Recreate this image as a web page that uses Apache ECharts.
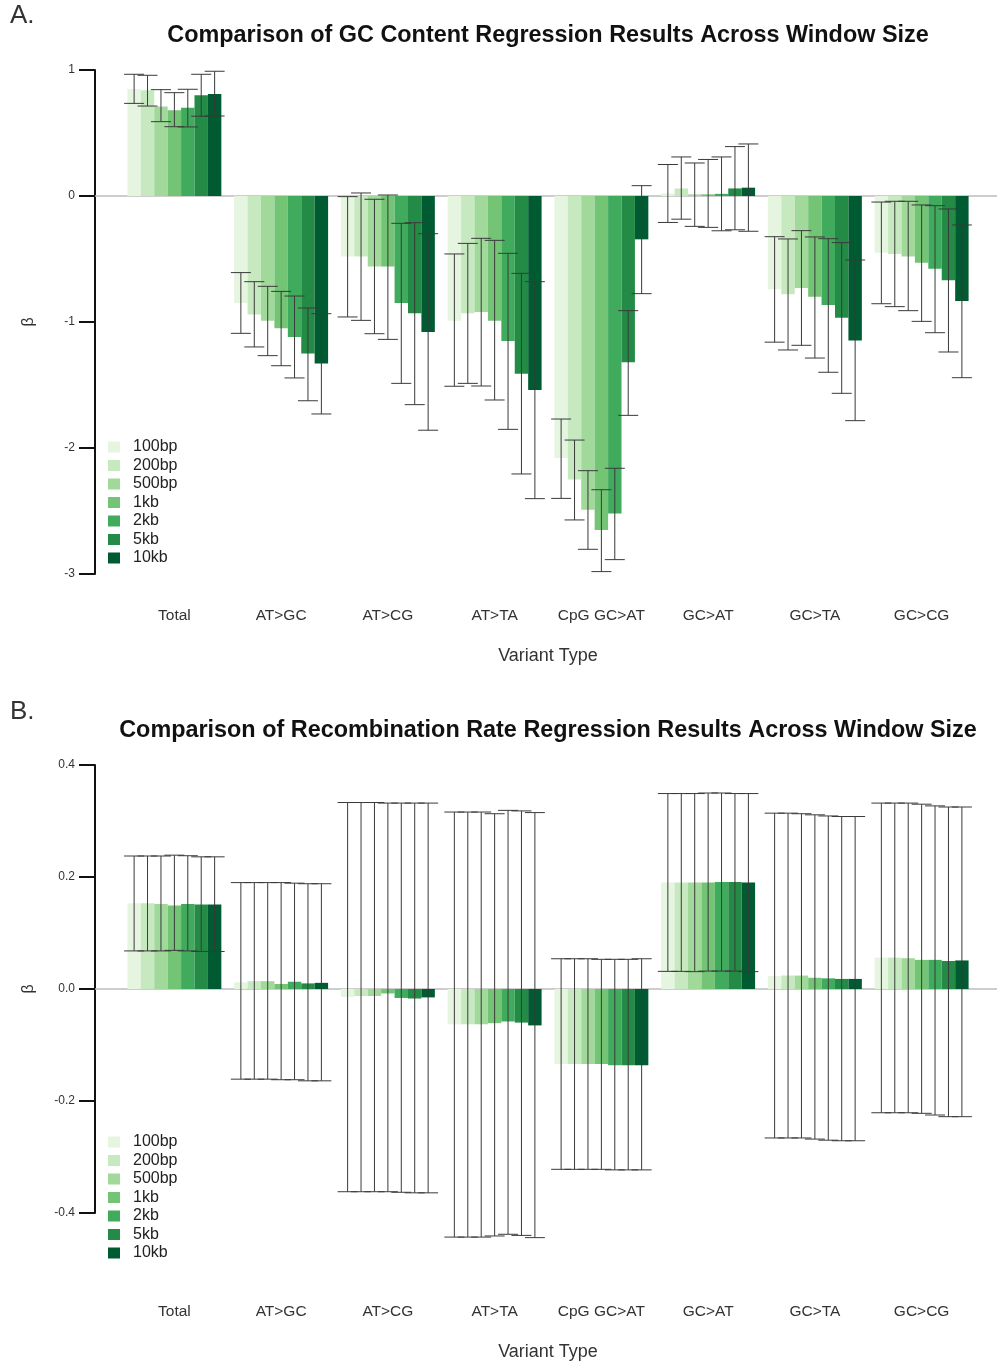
<!DOCTYPE html>
<html>
<head>
<meta charset="utf-8">
<script src="https://cdn.jsdelivr.net/npm/echarts@6/dist/echarts.min.js"></script>
<style>
html,body{margin:0;padding:0;background:#fff;}
#chart{width:997px;height:1362px;}
</style>
</head>
<body>
<div id="chart"></div>
<script>
const categories = ['Total', 'AT>GC', 'AT>CG', 'AT>TA', 'CpG GC>AT', 'GC>AT', 'GC>TA', 'GC>CG'];
const windowSizes = ['100bp', '200bp', '500bp', '1kb', '2kb', '5kb', '10kb'];
const gcTicks = [-3, -2, -1, 0, 1];
const recTicks = [-0.4, -0.2, 0.0, 0.2, 0.4];

// Panel A: GC content regression (rows = window size, columns = categories)
const gcBeta = [
  [0.85, -0.85, -0.48, -0.99, -2.08, 0.02, -0.74, -0.45],
  [0.84, -0.94, -0.48, -0.93, -2.25, 0.06, -0.78, -0.46],
  [0.71, -0.99, -0.56, -0.92, -2.49, 0.013, -0.73, -0.48],
  [0.68, -1.05, -0.56, -0.99, -2.65, 0.013, -0.80, -0.53],
  [0.70, -1.12, -0.85, -1.15, -2.52, 0.017, -0.865, -0.577],
  [0.80, -1.25, -0.93, -1.41, -1.32, 0.06, -0.966, -0.669],
  [0.81, -1.33, -1.08, -1.54, -0.344, 0.066, -1.146, -0.833]
];
const gcLower = [
  [0.735, -1.09, -0.96, -1.51, -2.40, -0.21, -1.16, -0.855],
  [0.714, -1.198, -0.987, -1.487, -2.571, -0.184, -1.222, -0.878],
  [0.59, -1.267, -1.093, -1.508, -2.804, -0.241, -1.185, -0.91],
  [0.55, -1.347, -1.138, -1.619, -2.981, -0.249, -1.286, -0.995],
  [0.548, -1.444, -1.487, -1.852, -2.886, -0.276, -1.399, -1.085],
  [0.633, -1.625, -1.656, -2.206, -1.741, -0.268, -1.566, -1.238],
  [0.635, -1.73, -1.859, -2.402, -0.775, -0.28, -1.783, -1.442]
];
const gcUpper = [
  [0.966, -0.608, -0.005, -0.46, -1.77, 0.25, -0.323, -0.048],
  [0.958, -0.68, 0.024, -0.376, -1.937, 0.31, -0.341, -0.042],
  [0.844, -0.717, -0.026, -0.336, -2.18, 0.262, -0.275, -0.042],
  [0.82, -0.757, 0.008, -0.352, -2.331, 0.29, -0.325, -0.071],
  [0.847, -0.794, -0.217, -0.455, -2.161, 0.31, -0.339, -0.077],
  [0.966, -0.889, -0.212, -0.614, -0.91, 0.392, -0.37, -0.103],
  [0.99, -0.934, -0.299, -0.68, 0.082, 0.413, -0.508, -0.23]
];

// Panel B: recombination rate regression
const recBeta = [
  [0.153, 0.012, -0.014, -0.063, -0.134, 0.19, 0.023, 0.056],
  [0.153, 0.014, -0.0125, -0.063, -0.134, 0.19, 0.024, 0.056],
  [0.152, 0.014, -0.0125, -0.063, -0.134, 0.19, 0.024, 0.055],
  [0.149, 0.009, -0.008, -0.061, -0.134, 0.19, 0.020, 0.052],
  [0.152, 0.013, -0.016, -0.058, -0.136, 0.191, 0.019, 0.052],
  [0.151, 0.010, -0.017, -0.060, -0.136, 0.191, 0.018, 0.050],
  [0.151, 0.011, -0.015, -0.065, -0.136, 0.19, 0.018, 0.051]
];
const recLower = [
  [0.068, -0.161, -0.362, -0.443, -0.322, 0.0315, -0.266, -0.221],
  [0.068, -0.161, -0.362, -0.443, -0.322, 0.0315, -0.266, -0.221],
  [0.068, -0.161, -0.362, -0.443, -0.322, 0.031, -0.266, -0.221],
  [0.069, -0.162, -0.362, -0.441, -0.322, 0.032, -0.268, -0.222],
  [0.068, -0.162, -0.363, -0.438, -0.323, 0.032, -0.270, -0.225],
  [0.067, -0.164, -0.364, -0.440, -0.323, 0.032, -0.271, -0.228],
  [0.067, -0.164, -0.364, -0.444, -0.323, 0.031, -0.271, -0.228]
];
const recUpper = [
  [0.2375, 0.19, 0.333, 0.316, 0.054, 0.349, 0.314, 0.332],
  [0.2375, 0.19, 0.333, 0.316, 0.054, 0.349, 0.314, 0.332],
  [0.2375, 0.19, 0.333, 0.316, 0.054, 0.349, 0.313, 0.332],
  [0.239, 0.19, 0.332, 0.313, 0.053, 0.35, 0.311, 0.330],
  [0.238, 0.189, 0.332, 0.319, 0.053, 0.35, 0.309, 0.327],
  [0.236, 0.188, 0.332, 0.318, 0.053, 0.349, 0.308, 0.325],
  [0.236, 0.188, 0.332, 0.315, 0.054, 0.349, 0.308, 0.325]
];

const colors = ['#e5f5e0', '#c7e9c0', '#a1d99b', '#74c476', '#41ab5d', '#238b45', '#005a32'];
const FONT = "'Liberation Sans', Arial, sans-serif";

const panels = [
  { letter: 'A.', letterTop: 3, title: 'Comparison of GC Content Regression Results Across Window Size', titleY: 36,
    top: 70, height: 504, ticks: gcTicks, dataMin: -3, dataMax: 1, fmt: v => String(v),
    beta: gcBeta, lower: gcLower, upper: gcUpper, labelMargin: 34, nameGap: 73, legendTop: 439 },
  { letter: 'B.', letterTop: 699, title: 'Comparison of Recombination Rate Regression Results Across Window Size', titleY: 731,
    top: 765, height: 448, ticks: recTicks, dataMin: -0.46, dataMax: 0.4, fmt: v => v.toFixed(1),
    beta: recBeta, lower: recLower, upper: recUpper, labelMargin: 57, nameGap: 96, legendTop: 1134 }
];

const grid = [], xAxis = [], yAxis = [], series = [], legend = [], graphic = [];
const BAR_CAT_GAP = 0.12;

function errRender(k) {
  return function (params, api) {
    const ci = api.value(0);
    const base = api.coord([ci, 0]);
    const band = api.size([1, 0])[0];
    const bw = band * (1 - BAR_CAT_GAP) / windowSizes.length;
    const x = base[0] + (k - (windowSizes.length - 1) / 2) * bw;
    const yLo = api.coord([ci, api.value(1)])[1];
    const yHi = api.coord([ci, api.value(2)])[1];
    const half = 10;
    const style = { stroke: '#3a3a3a', lineWidth: 1 };
    return {
      type: 'group',
      children: [
        { type: 'line', shape: { x1: x, y1: yLo, x2: x, y2: yHi }, style },
        { type: 'line', shape: { x1: x - half, y1: yLo, x2: x + half, y2: yLo }, style },
        { type: 'line', shape: { x1: x - half, y1: yHi, x2: x + half, y2: yHi }, style }
      ]
    };
  };
}

panels.forEach((p, pi) => {
  const min = p.ticks[0], max = p.ticks[p.ticks.length - 1];
  const interval = p.ticks[1] - p.ticks[0];
  const pxPerUnit = p.height / (max - min);
  const barsTop = p.top - (p.dataMax - max) * pxPerUnit;
  const barsHeight = (p.dataMax - p.dataMin) * pxPerUnit;
  const gB = pi * 2, gA = pi * 2 + 1;

  grid.push({ left: 121, right: 22, top: barsTop, height: barsHeight });
  grid.push({ left: 95, right: 0, top: p.top, height: p.height });

  xAxis.push({
    type: 'category', gridIndex: gB, data: categories,
    axisLine: { show: false, onZero: false }, axisTick: { show: false },
    axisLabel: { margin: p.labelMargin, fontSize: 15.5, color: '#333', fontFamily: FONT, interval: 0 },
    name: 'Variant Type', nameLocation: 'middle', nameGap: p.nameGap,
    nameTextStyle: { fontSize: 18, color: '#333', fontFamily: FONT }
  });
  xAxis.push({
    type: 'category', gridIndex: gA, data: [''],
    axisLine: { show: true, onZero: true, lineStyle: { color: '#bdbdbd', width: 1.5 } },
    axisTick: { show: false }, axisLabel: { show: false }
  });
  yAxis.push({ type: 'value', gridIndex: gB, min: p.dataMin, max: p.dataMax, show: false, splitLine: { show: false } });
  yAxis.push({
    type: 'value', gridIndex: gA, min: min, max: max, interval: interval,
    axisLine: { show: true, lineStyle: { color: '#111', width: 2 } },
    axisTick: { show: true, length: 16, lineStyle: { color: '#111', width: 2 } },
    axisLabel: { margin: 20, fontSize: 12, color: '#333', fontFamily: FONT, formatter: p.fmt },
    splitLine: { show: false },
    name: 'β', nameLocation: 'middle', nameGap: 58, nameRotate: 90,
    nameTextStyle: { fontSize: 16, color: '#333', fontFamily: FONT }
  });

  windowSizes.forEach((w, k) => {
    series.push({
      type: 'bar', name: w, xAxisIndex: gB, yAxisIndex: gB,
      data: p.beta[k], barGap: '0%', barCategoryGap: (BAR_CAT_GAP * 100) + '%',
      itemStyle: { color: colors[k] }, z: 2, silent: true
    });
  });
  windowSizes.forEach((w, k) => {
    series.push({
      type: 'custom', xAxisIndex: gB, yAxisIndex: gB, z: 5, silent: true,
      renderItem: errRender(k),
      encode: { x: 0, y: [1, 2] },
      data: categories.map((c, ci) => [ci, p.lower[k][ci], p.upper[k][ci]])
    });
  });

  legend.push({
    data: windowSizes, orient: 'vertical', left: 108, top: p.legendTop, padding: 0,
    icon: 'rect', itemWidth: 12, itemHeight: 11, itemGap: 2.5,
    textStyle: { fontSize: 16, color: '#222', fontFamily: FONT, lineHeight: 14, padding: [0, 0, 0, 8] },
    selectedMode: false
  });

  graphic.push({ type: 'text', left: 10, top: p.letterTop,
    style: { text: p.letter, font: '26px ' + FONT, fill: '#333' } });
  graphic.push({ type: 'text', x: 548, y: p.titleY,
    style: { text: p.title, font: 'bold 23.4px ' + FONT, fill: '#111', textAlign: 'center', textVerticalAlign: 'middle' } });
});

const chart = echarts.init(document.getElementById('chart'), null, { renderer: 'canvas' });
chart.setOption({
  animation: false,
  backgroundColor: '#fff',
  textStyle: { fontFamily: FONT },
  grid, xAxis, yAxis, series, legend, graphic
});
</script>
</body>
</html>
